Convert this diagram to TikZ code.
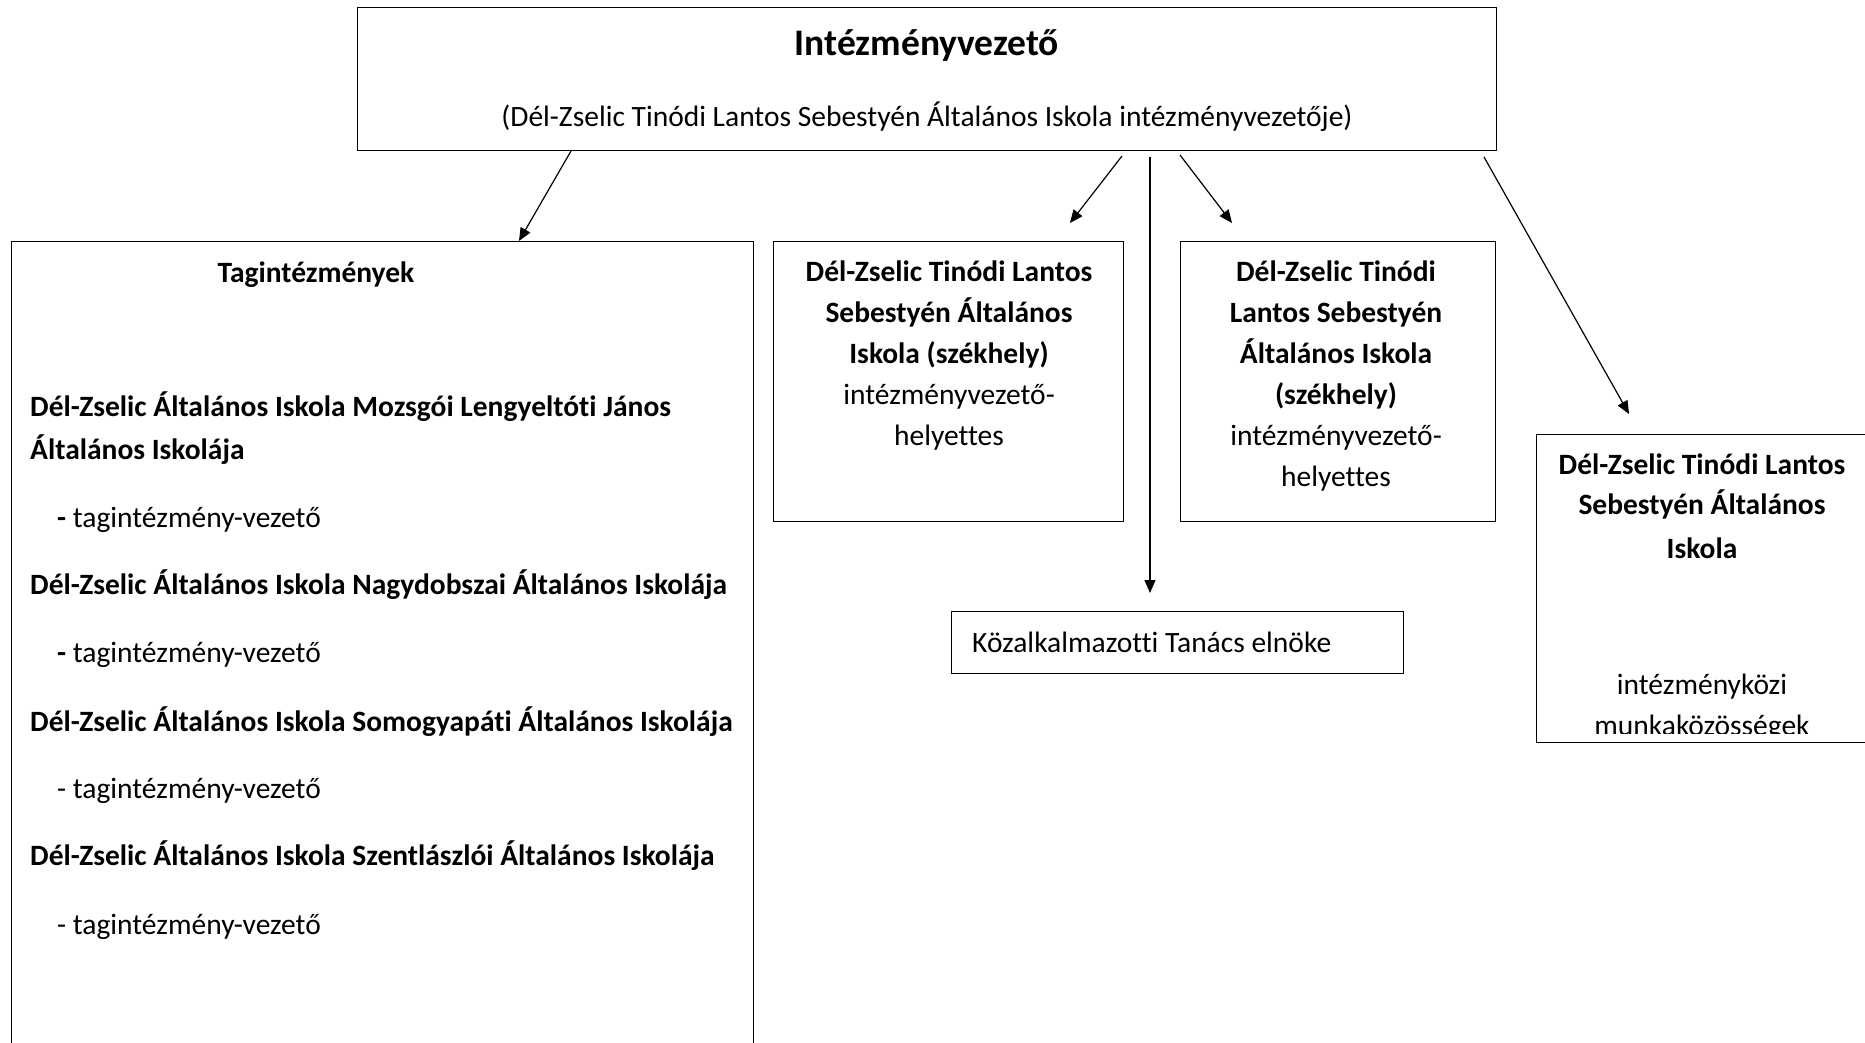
\documentclass[tikz,border=0pt]{standalone}
\usepackage{fontspec}
\setmainfont{Carlito}[Ligatures=CommonOff]
\usetikzlibrary{arrows.meta}
\begin{document}
\begin{tikzpicture}[x=1pt,y=-1pt,
  box/.style={draw, line width=1.2pt, rectangle, anchor=north west, inner sep=0pt},
  arr/.style={-{Triangle[length=13pt,width=11pt]}, line width=1.2pt},
  txt/.style={inner sep=0pt, font=\fontsize{29.5}{40}\selectfont},
  btxt/.style={inner sep=0pt, font=\fontsize{29.5}{40}\selectfont\bfseries},
]
\useasboundingbox (0,0) rectangle (1865,1043);
\fill[white] (0,0) rectangle (1865,1043);
\begin{scope}
\clip (0,0) rectangle (1865,1043);
% boxes
\node[box, minimum width=1139pt, minimum height=143pt] (top) at (357,7) {};
\node[box, minimum width=742pt, minimum height=860pt] (tag) at (11,241) {};
\node[box, minimum width=350pt, minimum height=280pt] (dep1) at (773,241) {};
\node[box, minimum width=315pt, minimum height=280pt] (dep2) at (1180,241) {};
\node[box, minimum width=452pt, minimum height=62pt] (kt) at (951,611) {};
\node[box, minimum width=340pt, minimum height=308pt] (mk) at (1536,434) {};

% top texts
\node[inner sep=0pt, anchor=base, font=\fontsize{37.5}{44}\selectfont\bfseries] (title) at (927,55.5) {Intézményvezető};
\node[txt, anchor=base] (sub) at (927,126.5) {(Dél-Zselic Tinódi Lantos Sebestyén Általános Iskola intézményvezetője)};

% left box texts
\node[btxt, anchor=base] (tagt) at (316,282.5) {Tagintézmények};
\node[btxt, anchor=base west] (s1a) at (30,416.5) {Dél-Zselic Általános Iskola Mozsgói Lengyeltóti János};
\node[btxt, anchor=base west] (s1b) at (30,459.5) {Általános Iskolája};
\node[txt, anchor=base west] (v1) at (57,527.5) {\textbf{-} tagintézmény-vezető};
\node[btxt, anchor=base west] (s2) at (30,594) {Dél-Zselic Általános Iskola Nagydobszai Általános Iskolája};
\node[txt, anchor=base west] (v2) at (57,662.5) {\textbf{-} tagintézmény-vezető};
\node[btxt, anchor=base west] (s3) at (30,731) {Dél-Zselic Általános Iskola Somogyapáti Általános Iskolája};
\node[txt, anchor=base west] (v3) at (57,798.5) {- tagintézmény-vezető};
\node[btxt, anchor=base west] (s4) at (30,865.5) {Dél-Zselic Általános Iskola Szentlászlói Általános Iskolája};
\node[txt, anchor=base west] (v4) at (57,934) {- tagintézmény-vezető};

% deputy boxes
\foreach \t [count=\i] in {\textbf{Dél-Zselic Tinódi Lantos},\textbf{Sebestyén Általános},\textbf{Iskola (székhely)},intézményvezető-,helyettes}
  \node[txt, anchor=base] (da\i) at (949,{240.5+41*\i}) {\t};
\foreach \t [count=\i] in {\textbf{Dél-Zselic Tinódi},\textbf{Lantos Sebestyén},\textbf{Általános Iskola},\textbf{(székhely)},intézményvezető-,helyettes}
  \node[txt, anchor=base] (db\i) at (1336,{240.5+41*\i}) {\t};

% Kozalkalmazotti
\node[txt, anchor=base west] (ktt) at (972,652) {Közalkalmazotti Tanács elnöke};

% right box
\begin{scope}
\clip (1537,435) rectangle (1865,733);
\node[btxt, anchor=base] (m1) at (1702,474.5) {Dél-Zselic Tinódi Lantos};
\node[btxt, anchor=base] (m2) at (1702,514.5) {Sebestyén Általános};
\node[btxt, anchor=base] (m3) at (1702,558) {Iskola};
\node[txt, anchor=base] (m4) at (1702,694) {intézményközi};
\node[txt, anchor=base] (m5) at (1702,735) {munkaközösségek};
\end{scope}

% connectors
\coordinate (a1s) at (571,151);
\coordinate (a2s) at (1122,156);
\coordinate (a2e) at (1070,223);
\coordinate (a3s) at (1150,157);
\coordinate (a3e) at (1150,593);
\coordinate (a4s) at (1180,155);
\coordinate (a4e) at (1232,223);
\coordinate (a5s) at (1484,157);
\coordinate (a5e) at (1629,414);
\draw[arr] (a1s) -- (tag.north west -| 519,0) ;
\draw[arr] (a2s) -- (a2e);
\draw[arr] (a3s) -- (a3e);
\draw[arr] (a4s) -- (a4e);
\draw[arr] (a5s) -- (a5e);
\end{scope}
\end{tikzpicture}
\end{document}
